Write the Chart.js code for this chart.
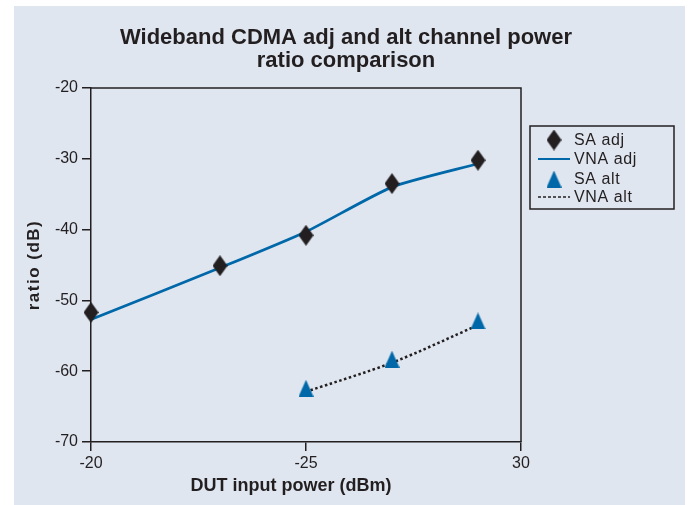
<!DOCTYPE html>
<html>
<head>
<meta charset="utf-8">
<script src="https://cdn.jsdelivr.net/npm/chart.js@4.4.0/dist/chart.umd.min.js"></script>
<style>
  html, body { margin: 0; padding: 0; background: #fff; }
</style>
</head>
<body>
<canvas id="chart" width="688" height="505"></canvas>
<script>
// data
const xPower = [-20, -23, -25, -27, -29];
const saAdj = [-51.7, -45.1, -40.8, -33.5, -30.2];
const vnaAdj = [-52.7, -45.4, -40.3, -34.0, -30.7];
const xAlt = [-25, -27, -29];
const saAlt = [-62.4, -58.3, -52.9];
const vnaAlt = [-62.9, -58.8, -53.5];
const xTickValues = [-20, -25, -30];
const xTickLabels = ['-20', '-25', '30'];
const titleLines = ['Wideband CDMA adj and alt channel power', 'ratio comparison'];
const xTitle = 'DUT input power (dBm)';
const yTitle = 'ratio (dB)';

const ink = '#231f20';
const blue = '#0068a8';
const panel = '#dfe6f0';
const fam = '"Liberation Sans", Arial, sans-serif';

const pts = (xs, ys) => xs.map((x, i) => ({ x: x, y: ys[i] }));

// tall diamond / triangle markers
function makeMarker(kind, w, h, color) {
  const c = document.createElement('canvas');
  c.width = w; c.height = h;
  const g = c.getContext('2d');
  g.fillStyle = color;
  g.beginPath();
  if (kind === 'diamond') {
    g.moveTo(w / 2, 0); g.lineTo(w, h / 2); g.lineTo(w / 2, h); g.lineTo(0, h / 2);
  } else {
    g.moveTo(w / 2, 0); g.lineTo(w, h); g.lineTo(0, h);
  }
  g.closePath();
  g.fill();
  return c;
}
const diamond = makeMarker('diamond', 15, 21, ink);
const triangle = makeMarker('triangle', 15, 17, blue);

const decor = {
  id: 'decor',
  beforeDraw(chart) {
    const ctx = chart.ctx;
    ctx.save();
    ctx.fillStyle = '#fff';
    ctx.fillRect(0, 0, chart.width, chart.height);
    ctx.fillStyle = panel;
    ctx.fillRect(14, 6, 671, 499);
    ctx.restore();
  },
  afterDraw(chart) {
    const ctx = chart.ctx;
    const a = chart.chartArea;
    ctx.save();
    // top and right frame
    ctx.strokeStyle = ink;
    ctx.lineWidth = 1.5;
    ctx.beginPath();
    ctx.moveTo(a.left, a.top);
    ctx.lineTo(a.right, a.top);
    ctx.lineTo(a.right, a.bottom);
    ctx.stroke();

    // title
    ctx.fillStyle = ink;
    ctx.textAlign = 'center';
    ctx.textBaseline = 'middle';
    ctx.font = 'bold 22px ' + fam;
    ctx.fillText(titleLines[0], 346, 38);
    ctx.fillText(titleLines[1], 346, 61);

    // axis titles
    ctx.font = 'bold 18px ' + fam;
    ctx.fillText(xTitle, 291, 486);
    ctx.save();
    ctx.translate(34, (a.top + a.bottom) / 2);
    ctx.rotate(-Math.PI / 2);
    ctx.font = 'bold 17px ' + fam;
    ctx.letterSpacing = '1.5px';
    ctx.fillText(yTitle, 0, 0);
    ctx.restore();

    // legend
    ctx.lineWidth = 1.5;
    ctx.strokeStyle = ink;
    ctx.strokeRect(530, 126, 144, 83);
    ctx.font = '16px ' + fam;
    ctx.letterSpacing = '0.6px';
    ctx.textAlign = 'left';
    const rowY = [140, 159, 179, 197];
    chart.data.datasets.forEach((ds, i) => {
      const y = rowY[i];
      if (ds.showLine === false) {
        const img = ds.pointStyle;
        ctx.drawImage(img, 554 - img.width / 2, y - img.height / 2);
      } else {
        ctx.strokeStyle = ds.borderColor;
        ctx.lineWidth = ds.borderDash ? 1.5 : 2;
        ctx.setLineDash(ds.borderDash ? [3, 2] : []);
        ctx.beginPath();
        ctx.moveTo(538, y);
        ctx.lineTo(570, y);
        ctx.stroke();
        ctx.setLineDash([]);
      }
      ctx.fillStyle = ink;
      ctx.fillText(ds.label, 574, y + 1);
    });
    ctx.restore();
  }
};

new Chart(document.getElementById('chart'), {
  type: 'line',
  data: {
    datasets: [
      {
        label: 'SA adj',
        data: pts(xPower, saAdj),
        showLine: false,
        pointStyle: diamond,
        pointRadius: 10,
        pointHoverRadius: 10,
        clip: false
      },
      {
        label: 'VNA adj',
        data: pts(xPower, vnaAdj),
        borderColor: blue,
        borderWidth: 2.7,
        pointRadius: 0,
        tension: 0.2
      },
      {
        label: 'SA alt',
        data: pts(xAlt, saAlt),
        showLine: false,
        pointStyle: triangle,
        pointRadius: 9,
        pointHoverRadius: 9,
        clip: false
      },
      {
        label: 'VNA alt',
        data: pts(xAlt, vnaAlt),
        borderColor: ink,
        borderWidth: 2.5,
        borderDash: [2.5, 2.5],
        pointRadius: 0,
        tension: 0.3
      }
    ]
  },
  options: {
    responsive: false,
    animation: false,
    layout: { padding: { top: 88, right: 167, left: 0, bottom: 0 } },
    plugins: {
      legend: { display: false },
      title: { display: false },
      tooltip: { enabled: false }
    },
    scales: {
      x: {
        type: 'linear',
        reverse: true,
        min: -30,
        max: -20,
        afterFit(scale) { scale.height = 63; },
        afterBuildTicks(scale) {
          scale.ticks = xTickValues.map(v => ({ value: v }));
        },
        ticks: {
          color: ink,
          padding: 3,
          maxRotation: 0,
          font: { size: 16, family: fam },
          callback(value) {
            const i = xTickValues.indexOf(value);
            return i >= 0 ? xTickLabels[i] : '';
          }
        },
        grid: {
          drawOnChartArea: false,
          tickLength: 9,
          color: ink,
          tickColor: ink,
          lineWidth: 1.5
        },
        border: { color: ink, width: 1.5 }
      },
      y: {
        min: -70,
        max: -20,
        afterFit(scale) { scale.width = 91; },
        ticks: {
          stepSize: 10,
          color: ink,
          padding: 4,
          font: { size: 16, family: fam }
        },
        grid: {
          drawOnChartArea: false,
          tickLength: 9,
          color: ink,
          tickColor: ink,
          lineWidth: 1.5
        },
        border: { color: ink, width: 1.5 }
      }
    }
  },
  plugins: [decor]
});
</script>
</body>
</html>
